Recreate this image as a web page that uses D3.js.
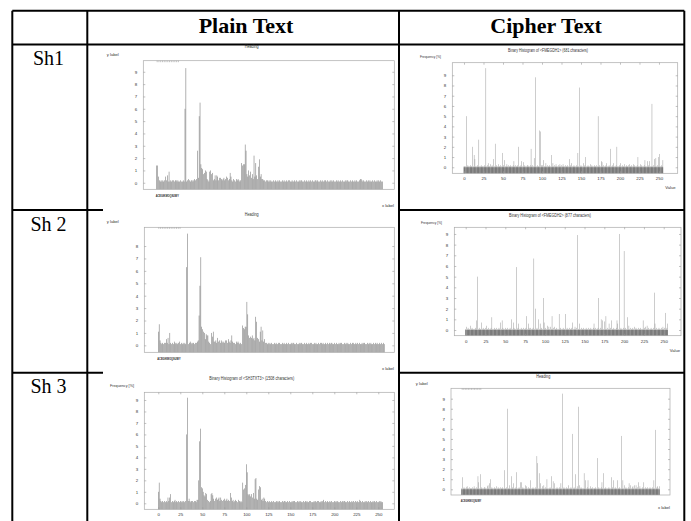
<!DOCTYPE html>
<html><head><meta charset="utf-8">
<script src="https://cdn.jsdelivr.net/npm/d3@7"></script>
<style>body{margin:0;background:#fff}svg{display:block}</style>
</head><body>
<svg id="c" width="691" height="521"></svg>
<script>
const columnHeaders = ["Plain Text", "Cipher Text"];
const rowLabels = ["Sh1", "Sh 2", "Sh 3"];
const valueTicks = [0, 25, 50, 75, 100, 125, 150, 175, 200, 225, 250];
const letterTicks = ["A","C","E","G","I","K","M","O","Q","S","U","W","Y"];
const letterTickIndex = [0, 2, 4, 6, 8, 10, 12, 14, 16, 18, 20, 22, 24];
const freqTicks9 = [0,1,2,3,4,5,6,7,8,9];
const freqTicks8 = [0,1,2,3,4,5,6,7,8];
const chartTitles = ["Heading", "Binary Histogram of <FMEGDH1> (681 characters)", "Heading", "Binary Histogram of <FMEGDH2> (877 characters)", "Binary Histogram of <SH3TXT3> (1508 characters)", "Heading"];

const plainSh1 = [
1.4,1.4,0.5,0.2,0.1,0.2,0.1,0.2,0.1,0.2,0.5,0.2,0.6,0.1,0.9,0.1,
0.2,0.1,0.2,0.2,0.1,0.2,0.2,0.1,0.2,0.1,0.1,0.2,0.1,0.1,0.2,0.1,
6.0,9.3,0.1,0.2,0.3,0.2,0.1,0.2,0.2,0.1,0.2,0.3,0.2,0.3,2.6,0.4,
5.4,6.5,1.5,1.2,1.1,0.7,0.8,1.0,0.9,0.3,0.2,0.1,0.9,1.0,0.7,0.8,
0.2,0.3,0.6,0.2,0.6,0.5,0.2,0.4,0.4,0.3,0.2,0.3,0.4,0.2,0.3,0.5,
0.4,0.2,0.3,0.8,0.5,0.2,0.1,0.3,0.2,0.1,0.3,0.2,0.3,0.2,0.1,0.2,
1.6,1.4,1.5,1.5,3.1,2.6,0.7,0.5,1.0,0.6,0.9,0.4,0.7,0.3,2.2,0.5,
1.6,0.6,0.3,1.3,1.9,0.5,0.7,0.3,0.3,0.2,0.2,0.1,0.2,0.2,0.1,0.2,
0.1,0.2,0.1,0.1,0.2,0.1,0.2,0.1,0.1,0.2,0.1,0.2,0.1,0.1,0.2,0.1,
0.2,0.1,0.1,0.2,0.1,0.2,0.2,0.1,0.1,0.2,0.1,0.1,0.2,0.1,0.2,0.1,
0.1,0.2,0.1,0.2,0.2,0.1,0.1,0.2,0.1,0.2,0.1,0.1,0.2,0.1,0.2,0.1,
0.2,0.1,0.1,0.2,0.2,0.1,0.2,0.1,0.1,0.2,0.1,0.2,0.1,0.1,0.2,0.2,
0.1,0.2,0.1,0.1,0.2,0.1,0.2,0.1,0.2,0.1,0.1,0.2,0.1,0.2,0.1,0.1,
0.2,0.1,0.2,0.1,0.1,0.2,0.1,0.2,0.2,0.1,0.1,0.2,0.1,0.2,0.1,0.1,
0.2,0.1,0.2,0.1,0.1,0.2,0.3,0.3,0.2,0.1,0.2,0.1,0.1,0.2,0.1,0.2,
0.1,0.2,0.1,0.1,0.2,0.1,0.2,0.1,0.1,0.2,0.1,0.2,0.1,0.2,0.1,0.1];

const cipherSh1 = [
0.1,0.1,0.1,5.0,0.1,0.2,0.1,0.1,0.2,0.1,0.1,2.0,0.1,1.2,0.8,0.1,
0.1,0.2,0.1,2.7,0.1,0.1,0.2,0.1,0.1,0.1,0.2,0.1,9.7,0.1,0.2,0.4,
0.1,0.1,0.3,0.1,0.2,0.1,0.8,0.1,2.3,0.1,0.2,0.1,0.3,0.1,0.1,0.2,
0.1,1.4,0.1,0.2,0.7,0.1,0.1,0.3,0.1,0.2,0.1,0.1,0.2,0.1,0.1,0.2,
0.6,0.1,0.2,0.1,0.1,0.2,2.0,0.1,0.1,0.2,0.6,0.1,0.5,0.1,0.2,0.1,
0.1,0.2,0.2,0.1,0.1,0.2,1.8,0.1,0.2,0.1,0.9,0.1,8.8,0.1,0.2,0.1,
0.1,3.6,3.5,0.2,0.1,0.2,0.7,0.1,0.1,0.4,0.1,0.2,0.1,0.1,0.2,0.1,
1.2,0.1,0.4,0.1,0.2,0.1,0.3,0.1,0.1,0.2,0.1,0.3,0.1,0.2,0.1,0.3,
0.1,0.1,0.2,0.1,0.1,0.2,0.1,0.8,0.1,0.2,0.4,0.1,0.1,0.2,0.1,0.1,
0.2,0.1,1.4,0.1,7.8,0.1,0.2,0.1,0.1,0.4,0.1,0.2,1.0,0.1,0.1,0.2,
0.1,0.1,0.3,0.1,0.2,0.1,0.1,0.2,0.1,0.1,0.2,0.1,5.0,0.1,0.2,0.1,
0.6,0.5,0.1,0.2,0.1,0.1,0.2,0.4,0.1,0.1,0.2,0.1,1.8,0.1,0.2,0.1,
0.4,0.1,0.1,0.2,2.0,0.1,0.1,0.2,0.1,0.4,0.1,0.2,0.1,0.1,0.3,0.1,
0.2,0.1,0.1,0.2,0.3,0.1,0.1,0.2,0.1,0.3,0.1,0.2,0.1,0.1,0.2,1.0,
0.1,0.1,0.3,0.1,0.2,0.1,0.1,0.2,0.7,0.1,0.1,0.6,0.1,0.2,0.6,0.1,
0.1,6.2,0.1,0.2,0.8,0.1,0.9,0.1,0.2,1.0,0.1,1.3,0.1,0.2,0.1,0.7];

const plainSh2 = [
1.1,1.7,0.4,0.2,0.1,0.2,0.1,0.2,0.2,0.5,0.2,0.6,0.1,1.0,0.2,0.1,
0.2,0.1,0.3,0.2,0.1,0.2,0.1,0.2,0.3,0.1,0.2,0.1,0.2,0.1,0.2,0.1,
6.3,9.0,0.1,0.2,0.3,0.2,0.1,0.2,0.2,0.1,0.2,0.2,0.3,0.4,2.4,4.8,
7.1,1.5,1.3,1.1,1.0,0.5,0.9,0.8,0.8,0.3,0.2,0.1,1.0,0.7,1.1,0.3,
0.3,0.4,0.2,0.6,0.3,0.4,0.2,0.4,0.3,0.2,0.3,0.2,0.4,0.4,0.2,0.5,
0.3,0.2,0.4,0.8,0.3,0.2,0.2,0.1,0.3,0.2,0.3,0.2,0.1,0.2,0.1,1.6,
1.4,1.3,1.5,1.5,3.5,2.5,0.8,0.6,0.7,0.6,0.8,0.5,0.6,0.4,2.3,1.9,
0.6,0.5,0.3,1.1,1.5,0.4,1.2,0.3,0.5,0.2,0.2,0.1,0.2,0.1,0.2,0.1,
0.2,0.1,0.1,0.2,0.1,0.2,0.1,0.1,0.2,0.2,0.1,0.1,0.2,0.1,0.2,0.1,
0.1,0.2,0.1,0.2,0.1,0.1,0.2,0.1,0.2,0.2,0.1,0.1,0.2,0.1,0.1,0.2,
0.1,0.2,0.2,0.1,0.1,0.2,0.1,0.2,0.1,0.1,0.2,0.1,0.2,0.2,0.1,0.1,
0.2,0.1,0.2,0.1,0.1,0.2,0.1,0.2,0.2,0.1,0.2,0.1,0.1,0.2,0.1,0.2,
0.1,0.2,0.1,0.2,0.2,0.1,0.1,0.2,0.1,0.2,0.1,0.1,0.2,0.1,0.2,0.2,
0.1,0.1,0.2,0.1,0.2,0.1,0.2,0.1,0.1,0.2,0.1,0.2,0.2,0.1,0.1,0.2,
0.1,0.2,0.1,0.2,0.1,0.1,0.2,0.1,0.2,0.2,0.1,0.1,0.2,0.1,0.2,0.1,
0.2,0.1,0.1,0.2,0.1,0.2,0.1,0.2,0.1,0.1,0.2,0.1,0.2,0.1,0.2,0.1];

const cipherSh2 = [
0.1,0.3,0.1,0.2,0.1,0.1,0.4,0.1,0.2,0.1,0.1,0.1,0.2,0.1,0.9,5.0,
0.1,0.2,0.1,0.1,0.7,0.1,0.2,0.1,0.1,0.2,0.4,0.1,0.1,0.2,0.1,0.1,
0.2,1.2,0.1,0.1,0.2,0.1,0.1,0.2,0.1,0.1,0.2,0.1,0.7,0.1,0.9,0.2,
0.1,0.1,0.2,0.1,0.1,0.2,0.1,0.1,0.2,0.1,1.0,0.1,0.7,0.2,0.1,0.1,
5.9,0.1,0.2,0.6,0.1,0.1,0.2,0.1,0.1,0.2,0.1,0.1,0.2,1.3,0.1,0.6,
0.2,0.1,0.2,0.1,0.1,0.2,6.7,0.1,2.0,0.1,0.2,0.1,1.0,0.1,0.6,0.1,
0.2,0.1,3.0,0.7,0.1,0.2,0.1,0.4,0.1,0.3,0.1,0.3,0.1,1.3,0.1,0.2,
0.3,0.1,0.1,0.2,0.1,0.1,1.5,0.1,0.2,0.1,0.1,0.2,0.1,0.1,1.5,0.1,
0.2,0.1,0.1,0.2,0.1,0.1,0.2,0.7,0.1,0.1,0.3,0.1,0.2,8.9,0.1,0.1,
0.6,0.1,0.2,0.1,0.1,0.2,0.1,0.1,0.2,0.1,0.1,0.2,0.1,0.1,0.2,0.1,
0.1,0.2,0.6,0.1,0.2,0.1,0.1,0.2,3.0,0.1,0.2,1.0,0.1,0.9,0.1,0.8,
0.1,1.3,0.1,0.2,0.1,0.6,0.1,0.2,0.9,0.1,0.1,0.2,0.1,0.1,0.2,0.9,
0.6,0.1,9.0,0.1,0.2,0.1,0.1,0.2,7.4,0.1,0.2,0.1,1.2,0.1,0.4,0.1,
0.2,0.1,0.1,0.2,0.1,0.3,0.1,0.2,0.1,0.1,0.2,0.1,0.1,0.2,0.1,0.1,
0.9,0.1,0.2,0.3,0.1,0.4,0.1,0.2,0.1,0.1,0.2,0.1,0.1,0.2,3.5,0.6,
0.1,0.2,0.1,0.1,0.2,0.1,0.1,0.2,0.1,0.3,0.1,0.2,1.6,0.1,0.2,0.6];

const plainSh3 = [
1.0,1.8,0.4,0.2,0.1,0.2,0.1,0.2,0.1,0.2,0.1,0.5,0.2,0.5,0.8,0.1,
0.2,0.1,0.2,0.3,0.1,0.2,0.1,0.2,0.1,0.2,0.1,0.2,0.1,0.2,0.1,0.2,
6.0,9.2,0.2,0.4,0.2,0.1,0.2,0.2,0.1,0.2,0.2,0.1,0.3,0.3,2.0,5.4,
6.5,1.4,1.3,1.0,0.7,0.6,0.9,0.8,0.3,0.2,0.1,0.2,0.8,0.9,0.7,0.4,
0.2,0.4,0.5,0.3,0.4,0.5,0.2,0.5,0.3,0.2,0.3,0.4,0.2,0.3,0.4,0.2,
0.3,0.2,0.9,0.5,0.2,0.3,0.1,0.2,0.3,0.2,0.1,0.3,0.2,0.1,0.2,0.1,
1.8,1.2,1.3,1.6,3.4,2.7,0.8,0.7,0.8,0.6,0.8,0.5,0.9,0.4,2.1,2.2,
0.4,0.3,1.2,1.5,1.4,0.3,0.4,0.2,0.5,0.4,0.2,0.1,0.2,0.1,0.2,0.1,
0.1,0.2,0.1,0.2,0.1,0.1,0.2,0.1,0.2,0.1,0.2,0.1,0.1,0.2,0.1,0.2,
0.2,0.1,0.1,0.2,0.1,0.2,0.1,0.1,0.2,0.1,0.2,0.2,0.1,0.1,0.2,0.1,
0.2,0.1,0.2,0.1,0.1,0.2,0.1,0.2,0.1,0.2,0.1,0.1,0.2,0.2,0.1,0.1,
0.1,0.2,0.1,0.2,0.1,0.2,0.2,0.1,0.1,0.2,0.1,0.2,0.3,0.1,0.2,0.1,
0.2,0.1,0.1,0.2,0.1,0.2,0.1,0.1,0.2,0.1,0.2,0.1,0.2,0.1,0.1,0.2,
0.1,0.2,0.1,0.2,0.2,0.1,0.1,0.2,0.1,0.2,0.1,0.1,0.2,0.1,0.2,0.1,
0.2,0.1,0.2,0.1,0.1,0.3,0.2,0.1,0.2,0.1,0.1,0.2,0.1,0.2,0.1,0.2,
0.1,0.2,0.1,0.1,0.2,0.1,0.2,0.1,0.2,0.1,0.1,0.2,0.1,0.2,0.1,0.1];

const cipherSh3 = [
0.1,1.2,0.1,0.2,0.1,0.1,0.2,0.3,0.1,0.1,0.2,0.1,0.1,0.1,0.2,0.1,
0.3,0.1,0.1,0.2,0.1,1.3,0.7,0.1,1.5,0.1,0.2,0.1,0.1,0.2,0.2,0.1,
0.1,0.3,0.4,0.1,0.6,1.0,0.1,0.2,0.1,0.1,0.2,0.1,0.1,0.3,0.1,0.2,
0.1,0.1,0.2,0.1,0.1,0.2,0.1,1.9,0.1,0.1,0.2,8.0,0.1,0.1,0.4,0.1,
1.3,0.1,0.2,0.6,0.1,0.1,0.2,1.7,0.1,0.1,0.2,0.1,0.7,0.7,0.1,0.2,
0.1,0.1,0.4,0.1,0.3,0.1,0.2,0.1,0.1,0.9,0.1,0.1,0.2,0.1,0.1,0.2,
0.1,3.3,2.6,0.1,1.6,0.1,0.6,0.1,0.3,0.1,0.4,0.1,0.2,0.1,1.0,0.1,
0.1,0.1,0.2,0.1,1.3,0.1,0.8,0.1,0.6,0.1,0.1,0.2,0.1,0.1,0.2,0.1,
0.6,0.1,9.5,0.1,0.2,0.1,0.1,0.2,0.1,0.1,0.4,0.1,0.1,0.2,0.1,5.5,
0.1,0.2,0.1,1.5,0.1,0.3,0.1,8.2,0.4,0.1,0.2,0.1,0.1,0.1,1.6,0.1,
0.9,0.1,0.2,0.9,0.1,0.1,0.3,0.1,0.1,0.2,0.1,0.1,0.1,0.2,0.1,3.1,
0.1,0.2,0.1,0.1,0.2,0.7,0.1,1.6,0.1,0.1,0.2,0.1,0.1,0.1,0.2,0.1,
0.1,1.2,0.1,0.2,0.9,0.1,0.2,0.1,0.1,0.9,0.1,0.1,0.2,0.1,5.3,0.1,
0.9,0.1,0.4,0.1,0.2,0.1,0.1,0.2,0.6,0.1,0.4,0.1,0.2,0.3,0.1,0.4,
0.1,0.4,0.1,0.2,0.7,0.1,0.3,0.1,0.1,0.2,0.1,0.7,0.1,0.2,0.1,0.1,
0.2,0.1,0.1,0.2,0.1,0.1,0.2,0.1,0.9,0.1,5.9,0.1,0.2,0.3,0.1,0.3];

// ---------- layout ----------
const svg = d3.select("#c");
const FONT = "Liberation Sans, Arial, sans-serif";

const L = 12.3, R = 684.3, C1 = 87.3, C2 = 399, TOP = 10.7, HB = 44.4, R2 = 210, R3 = 372.7, BOT = 530;
const lines = svg.append("g").attr("stroke", "#000").attr("stroke-width", 2).attr("fill", "none");
[[L, TOP, R, TOP], [L, HB, R, HB], [L, TOP, L, BOT], [C1, TOP, C1, BOT], [C2, TOP, C2, BOT], [R, TOP, R, BOT],
 [L, R2, 103, R2], [C2, R2, R, R2], [L, R3, 103, R3], [C2, R3, R, R3]]
  .forEach(s => lines.append("line").attr("x1", s[0]).attr("y1", s[1]).attr("x2", s[2]).attr("y2", s[3]));

const hdrX = [246, 546];
columnHeaders.forEach((t, i) => svg.append("text").attr("x", hdrX[i]).attr("y", 33)
  .attr("text-anchor", "middle").attr("font-family", "Liberation Serif, Times New Roman, serif")
  .attr("font-weight", "bold").attr("font-size", 22).text(t));
const rowBase = [65, 230.7, 393];
rowLabels.forEach((t, i) => svg.append("text").attr("x", 48.5).attr("y", rowBase[i])
  .attr("text-anchor", "middle").attr("font-family", "Liberation Serif, Times New Roman, serif")
  .attr("font-size", 20).text(t));

function drawChart(cfg) {
  const g = svg.append("g");
  const x = d3.scaleLinear().domain(cfg.xd).range([cfg.x0, cfg.x1]);
  const y = d3.scaleLinear().domain(cfg.yd).range([cfg.y1, cfg.y0]);
  const step = x(1) - x(0);
  const bw = step * cfg.bwf;
  g.append("g").selectAll("rect").data(cfg.values).join("rect")
    .attr("x", (d, i) => x(i) - bw / 2).attr("y", d => y(d))
    .attr("width", bw).attr("height", d => cfg.y1 - y(d)).attr("fill", cfg.color);
  if (cfg.baseColor) {
    g.append("g").selectAll("rect").data(cfg.values).join("rect")
      .attr("x", (d, i) => x(i) - bw / 2).attr("y", d => Math.max(y(d), y(0)))
      .attr("width", bw).attr("height", d => cfg.y1 - Math.max(y(d), y(0))).attr("fill", cfg.baseColor);
  }
  g.append("rect").attr("x", cfg.x0).attr("y", cfg.y0).attr("width", cfg.x1 - cfg.x0)
    .attr("height", cfg.y1 - cfg.y0).attr("fill", "none").attr("stroke", "#aaa").attr("stroke-width", 0.7);

  const styleAxis = (sel) => {
    sel.select(".domain").remove();
    sel.selectAll("line").attr("stroke", "#999").attr("stroke-width", 0.6);
    sel.selectAll("text").attr("font-family", FONT).attr("font-size", 4.4).attr("fill", "#333");
  };
  g.append("g").attr("transform", `translate(${cfg.x0},0)`)
    .call(d3.axisLeft(y).tickValues(cfg.yt).tickSize(-2).tickPadding(6).tickFormat(d3.format("d"))).call(styleAxis);
  g.append("g").attr("transform", `translate(${cfg.x1},0)`)
    .call(d3.axisRight(y).tickValues(cfg.yt).tickSize(-2).tickFormat("")).call(styleAxis);
  if (cfg.letters) {
    // the letter tick labels crowd into one run of text under their ticks
    const xa = x(letterTickIndex[0]) - 1, xb = x(letterTickIndex[letterTickIndex.length - 1]) + 1;
    g.append("text").attr("x", xa).attr("y", cfg.y1 + 7.2)
      .attr("font-family", FONT).attr("font-size", 4.2).attr("font-weight", "bold").attr("fill", "#222")
      .attr("textLength", xb - xa).attr("lengthAdjust", "spacingAndGlyphs").text(letterTicks.join(""));
    g.append("g").attr("transform", `translate(0,${cfg.y0})`)
      .call(d3.axisTop(x).tickValues(letterTickIndex).tickSize(-1.5).tickFormat("")).call(styleAxis);
  } else {
    g.append("g").attr("transform", `translate(0,${cfg.y1})`)
      .call(d3.axisBottom(x).tickValues(valueTicks).tickSize(-2).tickPadding(4)).call(styleAxis);
    g.append("g").attr("transform", `translate(0,${cfg.y0})`)
      .call(d3.axisTop(x).tickValues(valueTicks).tickSize(-2).tickFormat("")).call(styleAxis);
  }
  const t = (txt, xx, yy, anchor, fs, len) => {
    const e = g.append("text").attr("x", xx).attr("y", yy).attr("text-anchor", anchor)
      .attr("font-family", FONT).attr("font-size", fs).attr("fill", "#333").text(txt);
    if (len) e.attr("textLength", len).attr("lengthAdjust", "spacingAndGlyphs");
  };
  t(cfg.title, cfg.titleX, cfg.titleY, "middle", 4.6, cfg.titleLen);
  t(cfg.ylab, cfg.ylabX, cfg.ylabY, "start", 4.2, cfg.ylabLen);
  if (cfg.xlab) t(cfg.xlab, cfg.xlabX, cfg.xlabY, cfg.xlabAnchor, 4.2, null);
}

const charts = [
  {values: plainSh1, letters: true, x0: 143.3, x1: 394.3, y0: 60.7, y1: 189.3, xd: [-15.1, 268.5], yd: [-0.53, 9.9], yt: freqTicks9,
   color: "#6e6e6e", bwf: 0.6, title: chartTitles[0], titleX: 251.7, titleY: 47.5, titleLen: 14,
   ylab: "y label", ylabX: 106.7, ylabY: 56, xlab: "x label", xlabX: 394, xlabY: 207, xlabAnchor: "end"},
  {values: cipherSh1, letters: false, x0: 452.3, x1: 677.7, y0: 62.7, y1: 173.3, xd: [-15, 274], yd: [-0.59, 10.23], yt: freqTicks9,
   color: "#8a8a8a", baseColor: "#444", bwf: 0.55, title: chartTitles[1], titleX: 548, titleY: 51.5, titleLen: 80,
   ylab: "Frequency [%]", ylabX: 420, ylabY: 58, ylabLen: 21, xlab: "Value", xlabX: 670.5, xlabY: 188.8, xlabAnchor: "middle"},
  {values: plainSh2, letters: true, x0: 144.3, x1: 394.3, y0: 227.3, y1: 352.3, xd: [-15.8, 266.4], yd: [-0.56, 9.51], yt: freqTicks8,
   color: "#6e6e6e", bwf: 0.6, title: chartTitles[2], titleX: 251.7, titleY: 215.5, titleLen: 14,
   ylab: "y label", ylabX: 106.7, ylabY: 223, xlab: "x label", xlabX: 394, xlabY: 369.8, xlabAnchor: "end"},
  {values: cipherSh2, letters: false, x0: 454.3, x1: 681, y0: 227.3, y1: 335.7, xd: [-14.4, 271.8], yd: [-0.534, 9.625], yt: freqTicks9,
   color: "#8a8a8a", baseColor: "#444", bwf: 0.55, title: chartTitles[3], titleX: 550, titleY: 216.5, titleLen: 82,
   ylab: "Frequency [%]", ylabX: 421, ylabY: 224, ylabLen: 21, xlab: "Value", xlabX: 675, xlabY: 351.5, xlabAnchor: "middle"},
  {values: plainSh3, letters: false, x0: 144.3, x1: 394.3, y0: 392.3, y1: 509.3, xd: [-15.9, 268.2], yd: [-0.523, 9.67], yt: freqTicks9,
   color: "#6e6e6e", bwf: 0.6, title: chartTitles[4], titleX: 251.7, titleY: 379.8, titleLen: 85,
   ylab: "Frequency [%]", ylabX: 110, ylabY: 386.5, ylabLen: 24, xlab: "", xlabX: 0, xlabY: 0, xlabAnchor: "end"},
  {values: cipherSh3, letters: true, x0: 451, x1: 670, y0: 388.3, y1: 495, xd: [-13.8, 268.8], yd: [-0.566, 10.03], yt: freqTicks9,
   color: "#8a8a8a", baseColor: "#444", bwf: 0.55, title: chartTitles[5], titleX: 543.3, titleY: 377.5, titleLen: 14,
   ylab: "y label", ylabX: 415.7, ylabY: 384.8, xlab: "x label", xlabX: 670, xlabY: 508.8, xlabAnchor: "end"}
];
charts.forEach(drawChart);
</script>
</body></html>
